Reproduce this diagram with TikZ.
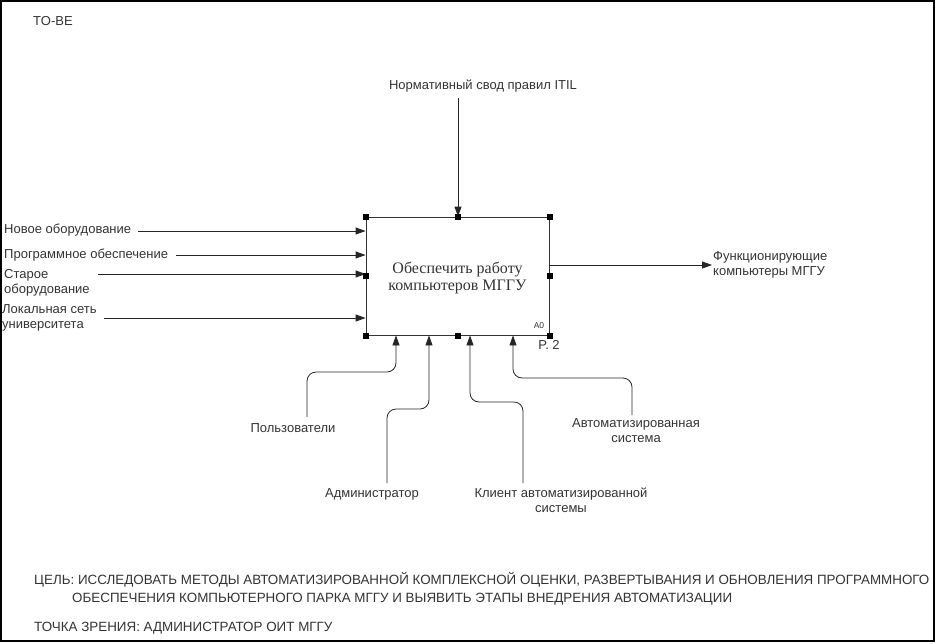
\documentclass[tikz,border=0pt]{standalone}
\usepackage{fontspec}
\setmainfont{Liberation Sans}
\newfontfamily\boxfont{Liberation Serif}
\usetikzlibrary{arrows.meta}

\begin{document}
\begin{tikzpicture}[x=1pt, y=-1pt]
        \tikzstyle{marca}=[fill=black, draw=black, rectangle, inner sep=0pt, minimum size=5pt]
        \tikzstyle{seta}=[draw=black!85, line width=0.8pt, -{Triangle[length=10pt, width=7pt]}]
        \tikzstyle{rotulo}=[font=\fontsize{13}{15}\selectfont, text=black!80, inner sep=1pt, align=center]

        \useasboundingbox (0,0) rectangle (936,643);
        \draw[line width=1.5pt] (1,1) rectangle (934,641);

        \node[anchor=west, rotulo] (tobe) at (32,21) {TO-BE};

        % bloco A0
        \node[draw=black!80, line width=0.8pt, minimum width=183pt, minimum height=118pt] (func) at (457.5,276) {};
        \node[font=\boxfont\fontsize{16}{17}\selectfont, text=black!80, align=center] (functxt) at (457.5,278) {Обеспечить работу\\компьютеров МГГУ};
        \node[font=\fontsize{8.5}{9}\selectfont, text=black!80] (numero) at (539,326) {A0};
        \node[rotulo] (pagina) at (549,345) {P. 2};

        % entradas
        \node[rotulo, anchor=west] (novo) at (3,230) {Новое оборудование};
        \node[rotulo, anchor=west] (prog) at (3,255) {Программное обеспечение};
        \node[rotulo, anchor=west, align=left] (velho) at (3,283) {Старое\\оборудование};
        \node[rotulo, anchor=west, align=left] (rede) at (1,318) {Локальная сеть\\университета};

        \coordinate (A) at (138,231);
        \coordinate (B) at (176,255);
        \coordinate (C) at (98,274);
        \coordinate (D) at (104,318);

        \draw[seta] (A) -- (A -| func.west);
        \draw[seta] (B) -- (B -| func.west);
        \draw[seta] (C) -- (C -| func.west);
        \draw[seta] (D) -- (D -| func.west);

        % controle
        \node[rotulo] (itil) at (483,86) {Нормативный свод правил ITIL};
        \coordinate (E) at (458,98);
        \draw[seta] (E) -- (E |- func.north);

        % saida
        \coordinate (F) at (549,265);
        \node[rotulo, anchor=west, align=left] (saida) at (712,265) {Функционирующие\\компьютеры МГГУ};
        \draw[seta] (F) -- (saida.west);

        % mecanismos
        \node[rotulo] (usuarios) at (293,428) {Пользователи};
        \node[rotulo] (admin) at (372,494) {Администратор};
        \node[rotulo] (cliente) at (561,500) {Клиент автоматизированной\\системы};
        \node[rotulo] (sistema) at (636,431) {Автоматизированная\\система};

        \coordinate (G1) at (307,417);
        \coordinate (G2) at (387,483);
        \coordinate (G3) at (523,483);
        \coordinate (G4) at (632,415);
        \coordinate (H1) at (396,372);
        \coordinate (H2) at (429,409);
        \coordinate (H3) at (470,402);
        \coordinate (H4) at (513,378);

        \draw[seta, rounded corners=9pt] (G1) |- (H1) -- (H1 |- func.south);
        \draw[seta, rounded corners=9pt] (G2) |- (H2) -- (H2 |- func.south);
        \draw[seta, rounded corners=9pt] (G3) |- (H3) -- (H3 |- func.south);
        \draw[seta, rounded corners=9pt] (G4) |- (H4) -- (H4 |- func.south);

        % marcas do bloco
        \node at (func.north west)[marca]{};
        \node at (func.north)[marca]{};
        \node at (func.north east)[marca]{};
        \node at (func.west)[marca]{};
        \node at (func.east)[marca]{};
        \node at (func.south west)[marca]{};
        \node at (func.south)[marca]{};
        \node at (func.south east)[marca]{};

        % rodape
        \node[rotulo, font=\fontsize{13.4}{18}\selectfont, anchor=west, align=left] (meta) at (33,589) {ЦЕЛЬ: ИССЛЕДОВАТЬ МЕТОДЫ АВТОМАТИЗИРОВАННОЙ КОМПЛЕКСНОЙ ОЦЕНКИ, РАЗВЕРТЫВАНИЯ И ОБНОВЛЕНИЯ ПРОГРАММНОГО\\\hspace*{38pt}ОБЕСПЕЧЕНИЯ КОМПЬЮТЕРНОГО ПАРКА МГГУ И ВЫЯВИТЬ ЭТАПЫ ВНЕДРЕНИЯ АВТОМАТИЗАЦИИ};
        \node[rotulo, font=\fontsize{13.4}{18}\selectfont, anchor=west] (ponto) at (33,628) {ТОЧКА ЗРЕНИЯ: АДМИНИСТРАТОР ОИТ МГГУ};
      \end{tikzpicture}
\end{document}
